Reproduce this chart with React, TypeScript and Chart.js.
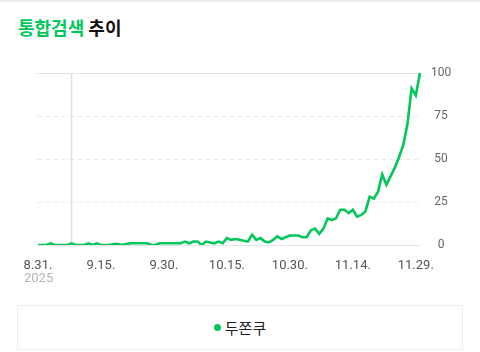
import { useEffect, useRef } from "react";
import { Chart, registerables } from "chart.js";

Chart.register(...registerables);

// Calendar: 2025-08-31 .. 2025-11-30 (daily)
const startDate = { y: 2025, m: 8, d: 31 };
const dayCount = 92;
const categories: string[] = [];
{
  const dt = new Date(startDate.y, startDate.m - 1, startDate.d);
  for (let i = 0; i < dayCount; i++) {
    categories.push(`${dt.getMonth() + 1}.${dt.getDate()}.`);
    dt.setDate(dt.getDate() + 1);
  }
}

const tickLabels = ["8.31.", "9.15.", "9.30.", "10.15.", "10.30.", "11.14.", "11.29."];
const yearLabel = "2025";
const yTicks = [0, 25, 50, 75, 100];
const markerCategory = "9.8.";

const seriesName = "두쫀쿠";
const seriesValues = [
  0, 0, 0, 1, 0, 0, 0, 0, 1, 0,
  0, 0, 1, 0, 1, 0, 0, 0, 0.5, 0.5,
  0, 0.5, 1, 1, 1, 1, 1, 0, 0, 1,
  1, 1, 1, 1, 1, 2, 1, 2, 2, 0,
  2, 1.5, 1, 2, 1, 4, 3, 3.5, 3, 2.5,
  2, 6, 3, 4, 2, 1.5, 3, 5, 3.5, 4.5,
  5.5, 5.5, 5.5, 4.5, 4.5, 8.5, 9.5, 6.5, 9.5, 15.5,
  14.5, 15.5, 20.5, 20.5, 18.5, 20.5, 16.5, 17.5, 19.5, 28,
  27, 31, 41, 35, 40, 45, 51, 58, 70, 91,
  87, 100,
];

const GREEN = "#03c75a";

const gridPlugin = {
  id: "customGrid",
  beforeDatasetsDraw(chart: any) {
    const { ctx, chartArea, scales } = chart;
    const y = scales.y;
    const x = scales.x;
    ctx.save();
    for (const v of yTicks) {
      const py = Math.round(y.getPixelForValue(v)) + 0.5;
      ctx.beginPath();
      if (v === 0 || v === 100) {
        ctx.setLineDash([]);
        ctx.strokeStyle = "#e3e3e3";
      } else {
        ctx.setLineDash([5, 3]);
        ctx.strokeStyle = "#ececec";
      }
      ctx.lineWidth = 1;
      ctx.moveTo(chartArea.left - 1, py);
      ctx.lineTo(chartArea.right, py);
      ctx.stroke();
    }
    const mi = categories.indexOf(markerCategory);
    if (mi >= 0) {
      const px = x.getPixelForValue(mi);
      ctx.setLineDash([]);
      ctx.strokeStyle = "#e0e0e0";
      ctx.lineWidth = 1.5;
      ctx.beginPath();
      ctx.moveTo(px, chartArea.top);
      ctx.lineTo(px, chartArea.bottom);
      ctx.stroke();
    }
    ctx.restore();
  },
};

export default function App() {
  const ref = useRef<HTMLCanvasElement | null>(null);

  useEffect(() => {
    if (!ref.current) return;
    const chart = new Chart(ref.current, {
      type: "line",
      data: {
        labels: categories,
        datasets: [
          {
            label: seriesName,
            data: seriesValues,
            borderColor: GREEN,
            borderWidth: 2.6,
            pointRadius: 0,
            tension: 0,
            fill: false,
          },
        ],
      },
      options: {
        animation: false,
        responsive: false,
        maintainAspectRatio: false,
        layout: { padding: { left: 38, right: 16, top: 73, bottom: 16 } },
        plugins: { legend: { display: false }, tooltip: { enabled: false } },
        scales: {
          x: {
            type: "category",
            offset: false,
            grid: { display: false },
            border: { display: false },
            afterFit(scale: any) {
              scale.height = 39;
            },
            ticks: {
              autoSkip: false,
              maxRotation: 0,
              minRotation: 0,
              padding: 5,
              color: "#555",
              font: { family: "Roboto", size: 13 },
              callback(_v: any, i: number) {
                const c = categories[i];
                return tickLabels.includes(c) ? c : "";
              },
            },
          },
          y: {
            position: "right",
            min: 0,
            max: 100,
            grid: { display: false },
            border: { display: false },
            afterFit(scale: any) {
              scale.width = 44;
            },
            ticks: {
              stepSize: 25,
              crossAlign: "center",
              color: "#666",
              font: { family: "Roboto", size: 12 },
            },
          },
        },
      },
      plugins: [gridPlugin],
    } as any);
    return () => chart.destroy();
  }, []);

  return (
    <div
      style={{
        position: "absolute",
        left: 0,
        top: 0,
        width: 480,
        height: 352,
        background: "#fff",
        overflow: "hidden",
        fontFamily: "Roboto, 'Noto Sans CJK KR', sans-serif",
      }}
    >
      <div style={{ position: "absolute", left: 0, top: 0, width: 480, height: 2, background: "#ececec" }} />
      <div
        style={{
          position: "absolute",
          left: 18,
          top: 15,
          fontFamily: "'Noto Sans CJK KR', sans-serif",
          fontWeight: 700,
          fontSize: 18,
          lineHeight: "24px",
          color: "#111",
          whiteSpace: "nowrap",
        }}
      >
        <span style={{ color: GREEN }}>통합검색</span> 추이
      </div>
      <canvas ref={ref} width={480} height={300} style={{ position: "absolute", left: 0, top: 0, width: 480, height: 300 }} />
      <div
        style={{
          position: "absolute",
          left: 24,
          top: 270,
          fontFamily: "Roboto, sans-serif",
          fontSize: 13,
          lineHeight: "16px",
          color: "#b5b5b5",
        }}
      >
        {yearLabel}
      </div>
      <div
        style={{
          position: "absolute",
          left: 17,
          top: 305,
          width: 446,
          height: 45,
          boxSizing: "border-box",
          border: "1px solid #eeeeee",
          display: "flex",
          alignItems: "center",
          justifyContent: "center",
        }}
      >
        <span
          style={{
            display: "inline-block",
            width: 7,
            height: 7,
            borderRadius: "50%",
            background: GREEN,
            marginRight: 4,
          }}
        />
        <span style={{ fontFamily: "'Noto Sans CJK KR', sans-serif", fontSize: 15, color: "#222" }}>{seriesName}</span>
      </div>
    </div>
  );
}
